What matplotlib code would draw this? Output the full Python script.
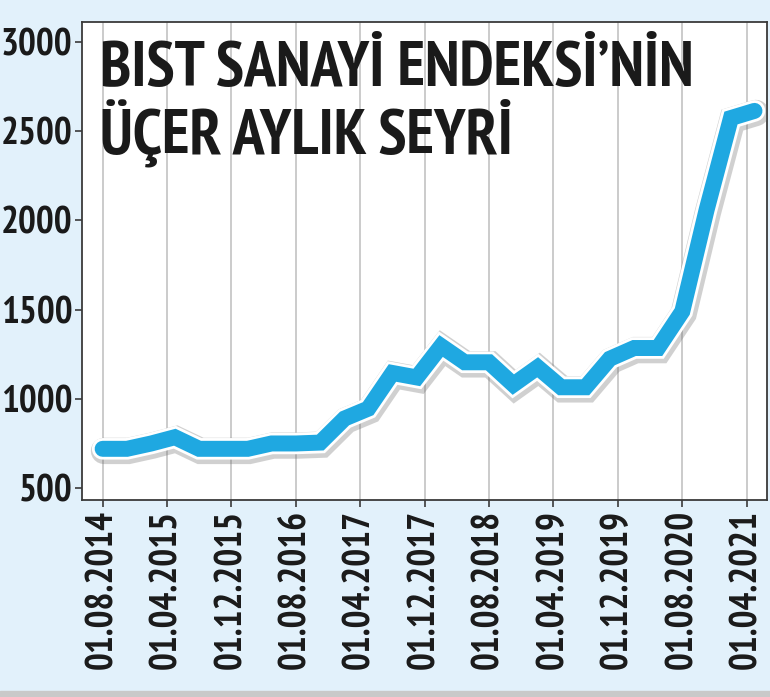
import datetime as dt

import matplotlib
matplotlib.use("Agg")
from matplotlib import pyplot as plt
from matplotlib import patheffects as pe
from matplotlib.patches import Rectangle

# quarterly points, Aug 2014 .. May 2021
months = list(range(0, 82, 3))
dates = [dt.date(2014 + (7 + m) // 12, (7 + m) % 12 + 1, 1) for m in months]
values = [720, 720, 750, 785, 720, 720, 720, 750, 750, 755,
          890, 945, 1145, 1120, 1296, 1205, 1205, 1080, 1177, 1065,
          1065, 1225, 1285, 1285, 1490, 2060, 2574, 2614]

tick_dates = [dt.date(2014, 8, 1), dt.date(2015, 4, 1), dt.date(2015, 12, 1),
              dt.date(2016, 8, 1), dt.date(2017, 4, 1), dt.date(2017, 12, 1),
              dt.date(2018, 8, 1), dt.date(2019, 4, 1), dt.date(2019, 12, 1),
              dt.date(2020, 8, 1), dt.date(2021, 4, 1)]
tick_labels = [d.strftime("%d.%m.%Y") for d in tick_dates]
y_ticks = [500, 1000, 1500, 2000, 2500, 3000]

title = "BIST SANAYİ ENDEKSİ’NİN\nÜÇER AYLIK SEYRİ"

plt.rcParams["font.family"] = ["PT Sans Narrow", "DejaVu Sans"]

fig = plt.figure(figsize=(7.7, 6.97), dpi=100)
fig.patch.set_facecolor("#e2f1fb")
fig.patches.append(Rectangle((0, 0), 1, 0.009, transform=fig.transFigure,
                             color="#c9c9c9", zorder=0))

ax = fig.add_axes([0.1065, 0.2826, 0.8895, 0.6858])
ax.set_facecolor("white")

ax.plot(dates, values, color="#1fa8e1", lw=11.5, solid_capstyle="round",
        solid_joinstyle="miter", zorder=3,
        path_effects=[pe.SimpleLineShadow(offset=(1, -1.5), shadow_color="#666666",
                                          alpha=0.3, linewidth=19),
                      pe.Stroke(linewidth=15.5, foreground="white"),
                      pe.Normal()])

ax.set_ylim(433, 3112)
ax.set_xlim(dt.date(2014, 5, 15), dt.date(2021, 6, 17))
ax.set_yticks(y_ticks)
ax.set_xticks(tick_dates)
ax.set_xticklabels(tick_labels, rotation=90)
ax.xaxis.grid(True, color="#bdbdbd", lw=1.1)
ax.set_axisbelow(True)

for s in ax.spines.values():
    s.set_color("#3a3a3a")
    s.set_linewidth(1.3)
ax.tick_params(axis="both", direction="out", length=5, width=1.2,
               color="#3a3a3a", labelsize=27, pad=2)
for lab in ax.get_xticklabels() + ax.get_yticklabels():
    lab.set_fontweight("bold")
    lab.set_color("#1a1a1a")

ax.text(0.027, 0.96, title, transform=ax.transAxes, ha="left", va="top",
        fontsize=46, fontweight="bold", color="#1a1a1a", linespacing=0.98)

fig.savefig("out.png", dpi=100, facecolor=fig.get_facecolor())
